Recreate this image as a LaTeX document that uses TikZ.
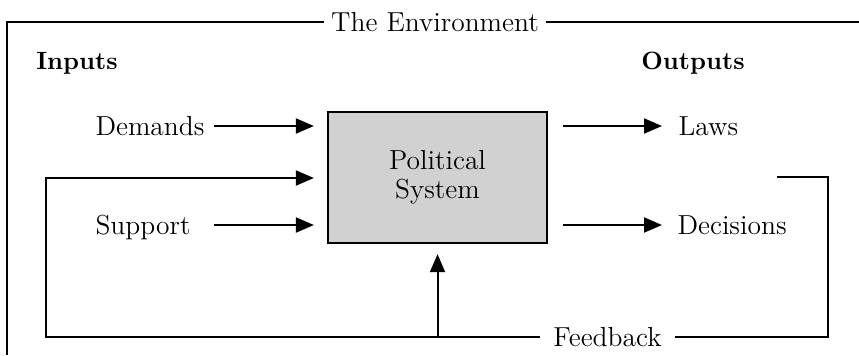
\documentclass[tikz,border=0pt]{standalone}
\usetikzlibrary{arrows.meta, positioning}

\begin{document}
\begin{tikzpicture}[
        x=0.4pt, y=-0.4pt,
        every node/.style={font=\fontsize{11}{12}\selectfont, inner sep=0pt, text height=7.5pt, text depth=0pt},
        head/.style={font=\fontsize{10}{11}\selectfont\bfseries},
        label/.style={anchor=west, text width=47pt, align=left},
        line/.style={line width=0.8pt},
        arr/.style={line width=0.8pt, -{Triangle[length=7.2pt, width=6pt]}},
        sysbox/.style={draw, line width=0.9pt, fill=black!18, minimum width=87.6pt, minimum height=52.4pt,
            align=center, text height={}, text depth={}, font=\fontsize{11}{11.5}\selectfont}
    ]
        \useasboundingbox (0,0) rectangle (859,355);

        % Hệ thống ở giữa
        \node [sysbox] (sys) at (437.5,177.5) {Political\\System};

        % Nhãn
        \node [inner xsep=2.5pt] (env) at (435,22) {The Environment};
        \node [head] (inputs) at (77,60) {Inputs};
        \node [head] (outputs) at (693,60) {Outputs};
        \node [label] (demands) at (95,126) {Demands};
        \node [label] (support) at (95,225) {Support};
        \node [anchor=west] (laws) at (678,126) {Laws};
        \node [anchor=west] (decisions) at (677,225) {Decisions};
        \node [inner xsep=5pt] (feedback) at (607.5,337) {Feedback};
        \coordinate (fbin) at (46,178);
        \coordinate (fbout) at (777,177);
        \coordinate (fbright) at (828,337);

        % Khung môi trường
        \draw[line] (7,355) |- (env.west);
        \draw[line] (env.east) -- (env.east -| 859,0);

        % Đầu vào và đầu ra
        \draw[arr, shorten >=5.2pt] (demands.east) -- (demands.east -| sys.west);
        \draw[arr, shorten >=5.2pt] (support.east) -- (support.east -| sys.west);
        \draw[arr, shorten <=6pt, shorten >=6.4pt] (laws.west -| sys.east) -- (laws.west);
        \draw[arr, shorten <=6pt, shorten >=6pt] (decisions.west -| sys.east) -- (decisions.west);

        % Vòng phản hồi
        \draw[line] (fbout) -| (fbright) -- (feedback.east);
        \draw[arr, shorten >=5.2pt] (feedback.west) -| (fbin) -- (fbin -| sys.west);
        \draw[arr, shorten >=4pt] (sys.south |- feedback) -- (sys.south);
    \end{tikzpicture}
\end{document}
